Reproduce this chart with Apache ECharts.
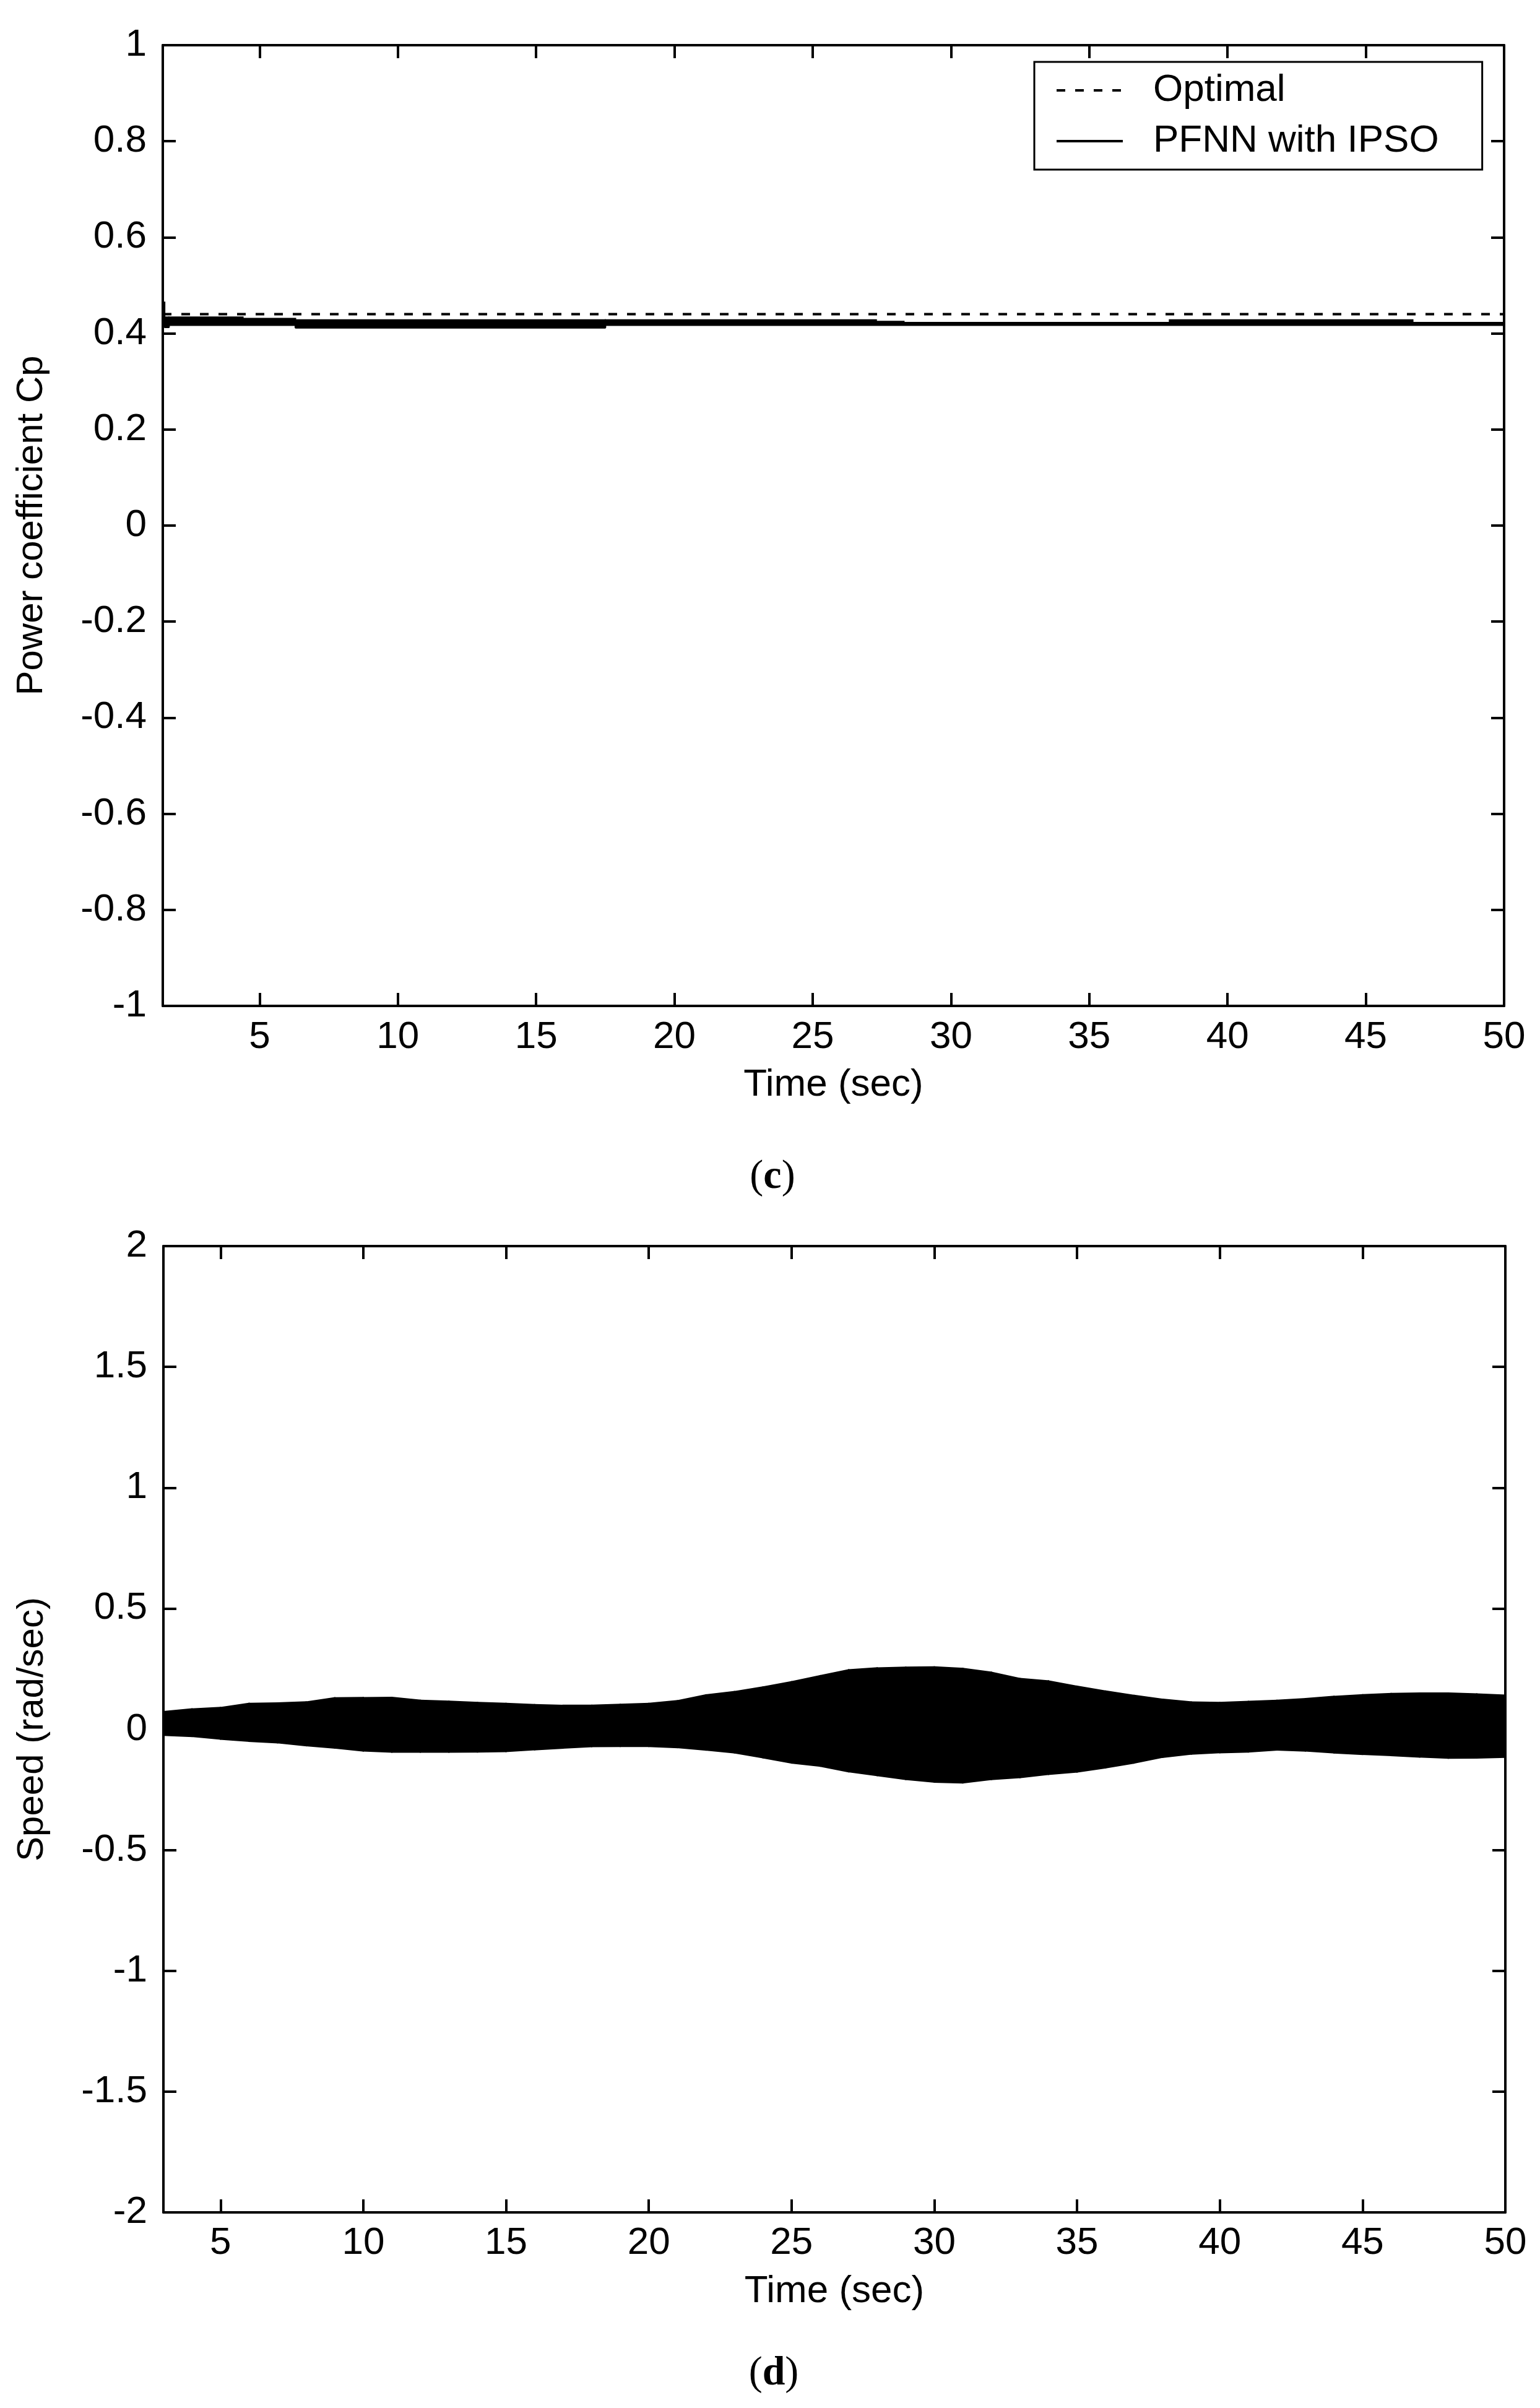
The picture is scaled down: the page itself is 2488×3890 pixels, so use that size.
<!DOCTYPE html>
<html><head><meta charset="utf-8">
<script src="https://cdn.jsdelivr.net/npm/echarts@6/dist/echarts.min.js"></script>
<style>html,body{margin:0;padding:0;background:#fff}#c{width:2488px;height:3890px}</style>
</head><body><div id="c"></div>
<script>
// ---- Data ----
const xTicks = [5, 10, 15, 20, 25, 30, 35, 40, 45, 50];

// (c) Power coefficient
const cpOptTime = [1.5, 50];
const cpOptimal = [0.44, 0.44];
const cpTime  = [1.5,   1.57,  1.72,   4.4,    6.3,   17.5,   27.3,   28.3,   37.9,   46.7,   50];
const cpUpper = [0.465, 0.434, 0.434,  0.431,  0.428, 0.428,  0.425,  0.4227, 0.428,  0.4227, 0.4227];
const cpLower = [0.430, 0.413, 0.4175, 0.4175, 0.412, 0.4175, 0.4175, 0.4175, 0.4175, 0.4175, 0.4175];

// (d) Speed oscillation envelope
const spTime  = [3,4,5,6,7,8,9,10,11,12,13,14,15,16,17,18,19,20,21,22,23,24,25,26,27,28,29,30,31,32,33,34,35,36,37,38,39,40,41,42,43,44,45,46,47,48,49,50];
const spUpper = [0.073,0.084,0.090,0.107,0.109,0.113,0.130,0.131,0.132,0.120,0.116,0.111,0.107,0.102,0.099,0.099,0.103,0.107,0.118,0.142,0.156,0.175,0.197,0.222,0.246,0.254,0.257,0.258,0.252,0.236,0.210,0.200,0.178,0.158,0.140,0.124,0.113,0.111,0.115,0.120,0.127,0.136,0.143,0.148,0.150,0.150,0.146,0.141];
const spLower = [-0.025,-0.030,-0.041,-0.050,-0.056,-0.068,-0.078,-0.090,-0.095,-0.095,-0.095,-0.094,-0.092,-0.085,-0.078,-0.072,-0.071,-0.071,-0.076,-0.086,-0.098,-0.118,-0.140,-0.153,-0.176,-0.192,-0.208,-0.219,-0.222,-0.208,-0.200,-0.187,-0.177,-0.160,-0.140,-0.116,-0.103,-0.097,-0.094,-0.086,-0.090,-0.098,-0.104,-0.109,-0.115,-0.120,-0.119,-0.116];

// ---- Chart ----
const FONT = '"Liberation Sans", Arial, Helvetica, sans-serif';
const SERIF = '"Liberation Serif", "Times New Roman", Times, serif';
const AX = {color: '#000', width: 4};
const TXT = {color: '#000', fontFamily: FONT, fontSize: 62};

function xAxes(gi, min, name, gap, margin) {
  return [
    {gridIndex: gi, type: 'value', min: min, max: 50, position: 'bottom',
     axisLine: {onZero: false, lineStyle: AX},
     axisTick: {inside: true, length: 21, lineStyle: AX, customValues: xTicks},
     axisLabel: Object.assign({customValues: xTicks, margin: margin}, TXT),
     splitLine: {show: false},
     name: name, nameLocation: 'middle', nameGap: gap, nameTextStyle: TXT},
    {gridIndex: gi, type: 'value', min: min, max: 50, position: 'top',
     axisLine: {onZero: false, lineStyle: AX},
     axisTick: {inside: true, length: 21, lineStyle: AX, customValues: xTicks},
     axisLabel: {show: false}, splitLine: {show: false}}
  ];
}
function yAxes(gi, min, max, interval, name, gap) {
  return [
    {gridIndex: gi, type: 'value', min: min, max: max, interval: interval, position: 'left',
     axisLine: {onZero: false, lineStyle: AX},
     axisTick: {inside: true, length: 21, lineStyle: AX},
     axisLabel: Object.assign({margin: 26}, TXT),
     splitLine: {show: false},
     name: name, nameLocation: 'middle', nameGap: gap, nameTextStyle: Object.assign({}, TXT, {fontSize: 60})},
    {gridIndex: gi, type: 'value', min: min, max: max, interval: interval, position: 'right',
     axisLine: {onZero: false, lineStyle: AX},
     axisTick: {inside: true, length: 21, lineStyle: AX},
     axisLabel: {show: false}, splitLine: {show: false}}
  ];
}
function pairs(t, v) { return t.map((x, i) => [x, v[i]]); }
// one item per interval: [t0, lo0, up0, t1, lo1, up1]
function segments(t, up, lo) {
  const out = [];
  for (let i = 0; i < t.length - 1; i++) out.push([t[i], lo[i], up[i], t[i + 1], lo[i + 1], up[i + 1]]);
  return out;
}
// piecewise-constant band (value held until the next time)
function stepBand(params, api) {
  const a = api.coord([api.value(0), api.value(2)]);
  const b = api.coord([api.value(3), api.value(1)]);
  return {type: 'rect', shape: {x: a[0], y: a[1], width: b[0] - a[0], height: b[1] - a[1]},
          style: {fill: '#000', stroke: '#000', lineWidth: 2}};
}
// linear envelope band
function linBand(params, api) {
  const p = [api.coord([api.value(0), api.value(2)]), api.coord([api.value(3), api.value(5)]),
             api.coord([api.value(3), api.value(4)]), api.coord([api.value(0), api.value(1)])];
  return {type: 'polygon', shape: {points: p}, style: {fill: '#000', stroke: '#000', lineWidth: 2}};
}

const chart = echarts.init(document.getElementById('c'), null, {renderer: 'canvas'});
chart.setOption({
  animation: false,
  backgroundColor: '#fff',
  grid: [
    {left: 263, top: 73, width: 2167, height: 1552},
    {left: 264, top: 2013, width: 2168, height: 1561}
  ],
  xAxis: xAxes(0, 1.5, 'Time (sec)', 97, 20).concat(xAxes(1, 3, 'Time (sec)', 97, 19)),
  yAxis: yAxes(0, -1, 1, 0.2, 'Power coefficient Cp', 182).concat(yAxes(1, -2, 2, 0.5, 'Speed (rad/sec)', 182)),
  legend: {
    data: ['Optimal', 'PFNN with IPSO'], orient: 'vertical', left: 1671, top: 100,
    itemWidth: 107, itemHeight: 20, itemGap: 20, padding: [15, 70, 15, 34],
    borderColor: '#000', borderWidth: 3, backgroundColor: '#fff', borderRadius: 0,
    selectedMode: false,
    itemStyle: {opacity: 0},
    lineStyle: {width: 4, color: '#000'},
    textStyle: Object.assign({padding: [0, 0, 0, 44]}, TXT)
  },
  series: [
    {name: 'Optimal', type: 'line', xAxisIndex: 0, yAxisIndex: 0, symbol: 'none', z: 3,
     data: pairs(cpOptTime, cpOptimal), itemStyle: {color: '#000'},
     lineStyle: {color: '#000', width: 4, type: [14, 16]}},
    {name: 'PFNN with IPSO', type: 'line', xAxisIndex: 0, yAxisIndex: 0, symbol: 'none', step: 'end',
     data: pairs(cpTime, cpLower), itemStyle: {color: '#000'}, lineStyle: {color: '#000', width: 3}},
    {name: 'PFNN band', type: 'custom', xAxisIndex: 0, yAxisIndex: 0, renderItem: stepBand,
     encode: {x: [0, 3], y: [1, 2]}, data: segments(cpTime, cpUpper, cpLower)},
    {name: 'Speed', type: 'custom', xAxisIndex: 2, yAxisIndex: 2, renderItem: linBand,
     encode: {x: [0, 3], y: [1, 2, 4, 5]}, data: segments(spTime, spUpper, spLower)}
  ],
  graphic: [
    {type: 'text', x: 1248, y: 1902, style: {text: '{p|(}{b|c}{p|)}', align: 'center', verticalAlign: 'middle',
      rich: {p: {fontFamily: SERIF, fontSize: 66, fill: '#000'}, b: {fontFamily: SERIF, fontSize: 66, fontWeight: 'bold', fill: '#000'}}}},
    {type: 'text', x: 1250, y: 3835, style: {text: '{p|(}{b|d}{p|)}', align: 'center', verticalAlign: 'middle',
      rich: {p: {fontFamily: SERIF, fontSize: 66, fill: '#000'}, b: {fontFamily: SERIF, fontSize: 66, fontWeight: 'bold', fill: '#000'}}}}
  ]
});
</script>
</body></html>
